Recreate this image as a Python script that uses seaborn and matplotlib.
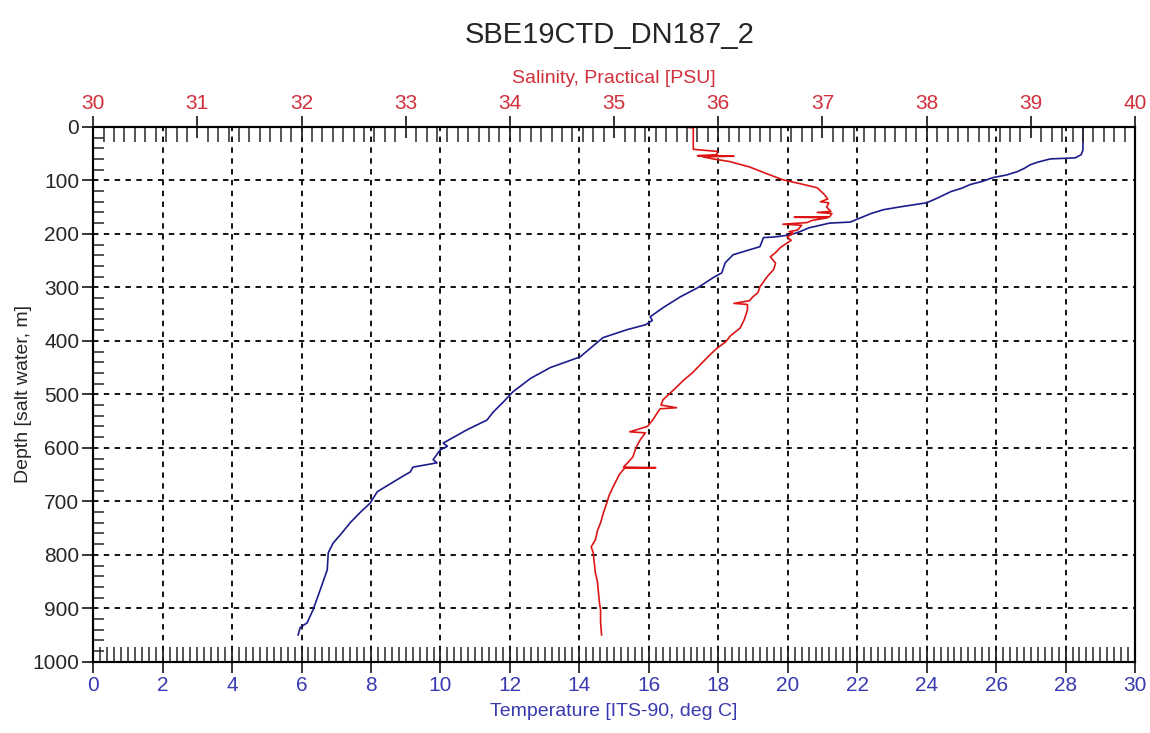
import pandas as pd
import seaborn as sns
import matplotlib.pyplot as plt
from matplotlib.ticker import MultipleLocator

# ************************************************************************
# Data (depth in m)
# ************************************************************************

temp_depth = [0, 43, 52, 58, 60, 66, 71, 78, 84, 90, 95, 102, 108, 115, 121, 132, 142, 150,
              155, 162, 170, 178, 180, 189, 196, 202, 206, 207, 224, 239, 254, 273, 282, 301,
              318, 338, 355, 362, 370, 379, 394, 412, 430, 450, 470, 495, 515, 533, 548, 566,
              591, 597, 604, 622, 628, 636, 645, 656, 682, 703, 720, 740, 760, 778, 796, 828,
              865, 903, 927, 936, 950]
temperature = [28.5, 28.5, 28.45, 28.28, 27.56, 27.2, 26.98, 26.8, 26.6, 26.3, 25.9, 25.6, 25.25,
               25.0, 24.7, 24.35, 24.0, 23.2, 22.75, 22.4, 22.1, 21.8, 21.2, 20.6, 20.35, 20.07,
               19.6, 19.3, 19.2, 18.43, 18.2, 18.1, 17.85, 17.4, 16.9, 16.41, 16.04, 16.1, 15.9,
               15.38, 14.68, 14.35, 14.02, 13.16, 12.6, 12.09, 11.8, 11.52, 11.34, 10.77, 10.08,
               10.2, 9.99, 9.79, 9.9, 9.21, 9.13, 8.84, 8.18, 7.98, 7.7, 7.4, 7.15, 6.91, 6.77,
               6.74, 6.54, 6.33, 6.16, 5.96, 5.9]

sal_depth = [0, 2, 42, 46, 52, 54, 55, 56, 60, 65, 75, 88, 99, 107, 114, 127, 135, 140, 142, 150,
             158, 160, 162, 168, 169, 170, 175, 179, 182, 184, 193, 196, 199, 206, 212, 225, 235,
             243, 255, 267, 280, 299, 310, 318, 325, 330, 332, 342, 360, 376, 390, 402, 415, 428,
             450, 460, 473, 490, 510, 520, 525, 527, 548, 560, 570, 572, 585, 600, 617, 630, 636,
             637, 638, 650, 673, 690, 703, 720, 740, 755, 772, 785, 796, 815, 834, 850, 871, 890,
             903, 925, 950]
salinity = [35.65, 35.76, 35.76, 35.99, 35.99, 35.80, 36.15, 35.85, 35.95, 36.11, 36.30, 36.47,
            36.62, 36.80, 36.95, 37.02, 37.05, 36.98, 37.06, 37.04, 37.08, 36.95, 37.09, 37.07,
            36.73, 37.05, 36.90, 36.85, 36.62, 36.80, 36.76, 36.68, 36.72, 36.66, 36.70, 36.60,
            36.55, 36.50, 36.55, 36.53, 36.47, 36.40, 36.38, 36.33, 36.30, 36.15, 36.28, 36.28,
            36.25, 36.21, 36.12, 36.07, 35.98, 35.91, 35.80, 35.75, 35.67, 35.58, 35.47, 35.45,
            35.60, 35.44, 35.37, 35.32, 35.15, 35.30, 35.25, 35.21, 35.18, 35.12, 35.09, 35.40,
            35.10, 35.05, 34.99, 34.95, 34.93, 34.90, 34.87, 34.84, 34.82, 34.78, 34.80, 34.81,
            34.82, 34.84, 34.85, 34.86, 34.87, 34.87, 34.88]

temp_df = pd.DataFrame({'depth': temp_depth, 'temp': temperature})
sal_df = pd.DataFrame({'depth': sal_depth, 'sal': salinity})

# ************************************************************************
# Plot
# ************************************************************************

sns.set_style('white')
plt.rcParams['font.family'] = ['Liberation Sans', 'DejaVu Sans']

blue_txt = '#3a3ab0'
red_txt = '#d0313c'

fig, ax = plt.subplots(figsize=(11.5, 7.33), dpi=100)
fig.subplots_adjust(left=0.081, right=0.987, bottom=0.097, top=0.827)

# temperature on the bottom axis
sns.lineplot(data=temp_df, x='temp', y='depth', sort=False, estimator=None,
             color='#1c1c8c', linewidth=1.2, ax=ax)
ax.set_xlim(0, 30)
ax.set_ylim(1000, 0)
ax.xaxis.set_major_locator(MultipleLocator(2))
ax.xaxis.set_minor_locator(MultipleLocator(0.2))
ax.yaxis.set_major_locator(MultipleLocator(100))
ax.yaxis.set_minor_locator(MultipleLocator(20))
ax.grid(True, which='major', color='black', linestyle=(0, (3, 3)), linewidth=1.3)
ax.tick_params(axis='x', which='major', direction='inout', length=16, width=1.3,
               labelsize=15, labelcolor=blue_txt, pad=2)
ax.tick_params(axis='x', which='minor', direction='in', length=11, width=1.1, bottom=True)
ax.tick_params(axis='y', which='major', direction='out', length=8, width=1.3,
               labelsize=15, pad=2, left=True)
ax.tick_params(axis='y', which='minor', direction='in', length=8, width=1.1, left=True)
ax.set_xlabel('Temperature [ITS-90, deg C]', fontsize=14, color=blue_txt, labelpad=6)
ax.set_ylabel('Depth [salt water, m]', fontsize=14, labelpad=0)

# salinity on the top axis
ax2 = ax.twiny()
sns.lineplot(data=sal_df, x='sal', y='depth', sort=False, estimator=None,
             color='#dd1515', linewidth=1.2, ax=ax2)
ax2.set_xlim(30, 40)
ax2.set_ylim(1000, 0)
ax2.xaxis.set_major_locator(MultipleLocator(1))
ax2.xaxis.set_minor_locator(MultipleLocator(0.1))
ax2.tick_params(axis='x', which='major', direction='inout', length=16, width=1.3,
                labelsize=15, labelcolor=red_txt, pad=2)
ax2.tick_params(axis='x', which='minor', direction='in', length=11, width=1.1, top=True)
ax2.set_xlabel('Salinity, Practical [PSU]', fontsize=14, color=red_txt, labelpad=8)
ax2.set_ylabel('')

for a in (ax, ax2):
    for s in a.spines.values():
        s.set_visible(True)
        s.set_color('black')
        s.set_linewidth(1.5)

fig.text(0.53, 0.952, 'SBE19CTD_DN187_2', ha='center', va='center', fontsize=21)

plt.savefig('out.png', dpi=100)
